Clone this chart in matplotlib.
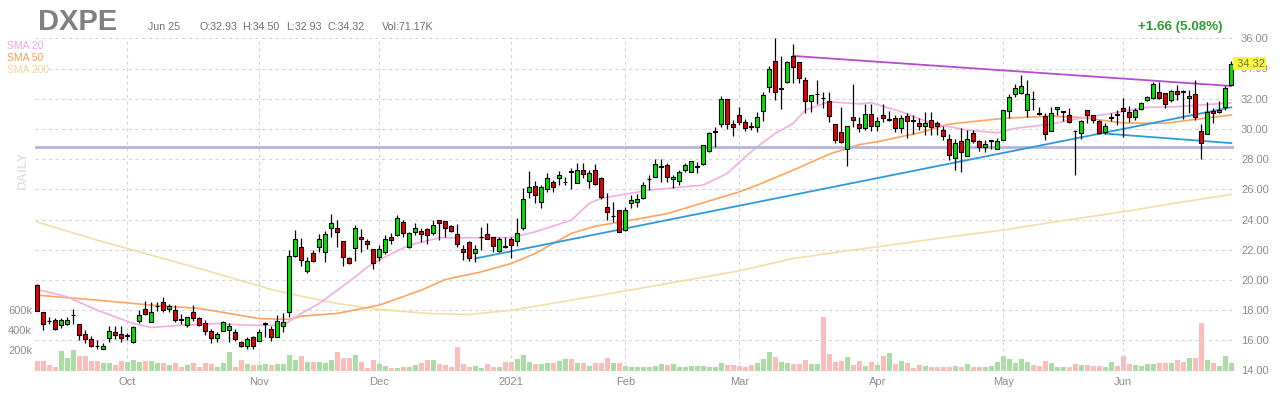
import numpy as np
import pandas as pd
import matplotlib
matplotlib.use('Agg')
import matplotlib.pyplot as plt
from matplotlib.transforms import blended_transform_factory

plt.rcParams['font.family'] = ['Liberation Sans', 'DejaVu Sans']

# trading days shown (NYSE holidays removed)
holidays = ['2020-11-26', '2020-12-25', '2021-01-01', '2021-01-18',
            '2021-02-15', '2021-04-02', '2021-05-31']
dates = pd.bdate_range('2020-09-10', '2021-06-25', freq='C', holidays=holidays)

# daily OHLC
opens = [19.65, 17.88, 17.27, 17.35, 17.04, 17.09, 17.66, 17.09, 16.42, 16.09,
         15.62, 15.43, 16.16, 16.56, 16.42, 16.29, 15.87, 17.26, 18.08, 17.20,
         18.25, 18.52, 18.10, 18.01, 17.36, 17.04, 17.88, 17.48, 17.13, 16.64,
         16.16, 16.64, 16.69, 16.58, 15.92, 15.60, 16.20, 15.96, 17.11, 16.75,
         16.20, 16.98, 17.90, 21.58, 22.19, 20.59, 21.75, 22.15, 21.84, 23.47,
         23.47, 22.59, 21.42, 22.08, 22.85, 22.59, 22.02, 21.49, 21.84, 22.81,
         22.96, 23.85, 22.15, 23.19, 23.25, 23.34, 23.12, 24.00, 23.91, 23.56,
         23.03, 22.02, 22.52, 21.75, 22.82, 23.07, 22.84, 21.89, 22.23, 22.73,
         22.56, 23.47, 25.84, 26.24, 25.13, 26.00, 26.47, 26.73, 26.46, 27.20,
         26.40, 27.29, 26.58, 27.29, 26.73, 24.80, 24.21, 24.62, 23.29, 25.07,
         25.13, 25.40, 26.65, 26.84, 27.50, 27.61, 26.66, 26.57, 27.28, 27.17,
         27.49, 27.66, 28.54, 29.80, 30.30, 31.98, 30.30, 30.92, 30.44, 30.16,
         30.15, 31.19, 32.80, 34.50, 32.64, 33.09, 34.83, 34.41, 33.24, 31.87,
         32.29, 32.04, 31.85, 30.30, 29.77, 28.65, 30.81, 30.34, 30.07, 30.98,
         30.20, 30.91, 30.61, 30.75, 30.03, 30.87, 30.54, 30.36, 30.18, 30.62,
         30.40, 29.96, 29.36, 28.04, 29.21, 28.22, 29.70, 29.19, 28.77, 29.20,
         28.70, 29.25, 31.17, 32.30, 32.41, 31.28, 31.98, 31.03, 30.87, 29.87,
         31.35, 31.12, 30.95, 29.86, 29.70, 31.28, 30.95, 30.53, 29.81, 30.69,
         30.96, 31.36, 31.10, 30.77, 31.30, 31.92, 32.03, 32.42, 32.36, 31.92,
         32.51, 32.48, 32.03, 32.29, 29.89, 29.66, 31.19, 31.14, 31.43, 32.93]
highs = [19.70, 17.90, 17.57, 17.48, 17.48, 17.53, 18.08, 17.10, 16.67, 16.30,
         16.03, 15.80, 16.98, 16.98, 16.93, 16.50, 16.93, 18.01, 18.63, 18.52,
         18.52, 18.85, 18.40, 18.32, 17.75, 17.55, 18.34, 17.53, 17.35, 16.75,
         16.53, 17.30, 17.13, 16.75, 15.98, 16.20, 16.31, 16.78, 17.20, 16.98,
         17.68, 17.79, 21.97, 23.30, 22.79, 21.53, 21.97, 23.07, 23.25, 24.35,
         23.96, 22.60, 21.53, 23.63, 23.34, 22.74, 22.02, 22.30, 22.96, 23.12,
         24.29, 24.00, 23.19, 23.74, 23.47, 23.41, 23.96, 24.00, 23.91, 23.63,
         23.69, 22.30, 22.55, 22.30, 23.51, 23.78, 22.84, 22.84, 22.84, 22.84,
         24.13, 26.07, 27.22, 26.56, 26.29, 27.11, 26.62, 27.18, 26.84, 27.44,
         27.73, 27.73, 27.29, 27.67, 26.84, 25.78, 25.18, 24.62, 24.80, 25.62,
         25.69, 26.51, 26.96, 28.00, 28.00, 27.73, 26.95, 27.28, 27.77, 27.88,
         27.83, 28.94, 29.82, 30.15, 32.18, 31.98, 30.60, 31.43, 30.64, 30.48,
         31.14, 32.47, 34.17, 36.00, 34.83, 34.52, 35.62, 34.41, 33.46, 32.25,
         33.24, 32.47, 32.47, 30.30, 31.43, 30.22, 32.98, 30.77, 31.64, 31.64,
         30.80, 31.64, 31.20, 30.91, 30.91, 31.06, 30.91, 30.69, 31.09, 31.09,
         30.53, 30.18, 29.65, 29.30, 30.03, 29.92, 29.92, 29.25, 29.25, 29.25,
         29.43, 31.24, 32.34, 32.96, 33.56, 33.27, 32.52, 31.46, 31.02, 31.46,
         31.46, 31.20, 31.40, 29.92, 30.58, 31.28, 30.95, 30.58, 30.36, 31.02,
         31.28, 32.03, 31.52, 31.36, 31.81, 32.18, 33.13, 33.13, 32.36, 32.58,
         32.91, 32.58, 32.58, 33.24, 30.33, 31.76, 31.36, 31.87, 32.84, 34.50]
lows = [17.95, 16.71, 17.09, 16.69, 16.82, 17.02, 17.09, 16.05, 15.80, 15.54,
        15.43, 15.43, 15.87, 16.09, 15.87, 16.00, 15.85, 17.13, 17.70, 17.20,
        17.97, 17.86, 17.90, 17.20, 17.09, 16.89, 17.30, 16.98, 16.38, 15.80,
        15.87, 16.60, 15.92, 15.94, 15.56, 15.43, 15.43, 15.96, 16.20, 15.98,
        16.20, 16.58, 17.57, 21.53, 20.92, 20.43, 21.20, 21.86, 21.20, 22.81,
        22.19, 20.92, 21.03, 21.27, 21.86, 22.04, 20.72, 21.27, 21.71, 22.37,
        22.92, 22.83, 22.08, 22.96, 22.52, 22.41, 22.96, 22.63, 22.85, 23.19,
        22.19, 21.31, 21.27, 21.20, 21.96, 22.69, 21.84, 21.84, 22.11, 21.47,
        22.22, 23.29, 25.40, 25.07, 24.78, 25.84, 25.84, 26.29, 26.29, 26.00,
        26.40, 26.73, 26.07, 26.29, 25.33, 24.00, 23.84, 23.18, 23.24, 24.73,
        24.84, 25.33, 25.96, 26.84, 26.51, 26.51, 26.07, 26.29, 27.17, 27.13,
        27.06, 27.61, 28.50, 28.83, 30.15, 30.00, 29.55, 30.26, 29.89, 29.93,
        29.82, 30.53, 32.47, 31.92, 31.30, 33.02, 33.02, 33.02, 31.03, 31.14,
        31.65, 31.36, 30.48, 29.09, 29.05, 27.55, 30.15, 29.78, 29.92, 29.87,
        29.87, 30.47, 30.53, 29.81, 29.70, 29.40, 29.65, 29.92, 29.58, 29.58,
        29.58, 29.25, 27.97, 27.31, 27.13, 28.22, 29.08, 28.55, 28.48, 28.70,
        28.70, 29.25, 30.69, 32.12, 32.34, 30.80, 31.24, 30.91, 29.25, 29.87,
        30.91, 30.51, 30.36, 26.98, 29.30, 30.40, 30.36, 29.65, 29.65, 30.53,
        30.25, 29.49, 30.44, 30.59, 31.25, 31.87, 31.96, 31.96, 31.36, 31.81,
        31.92, 30.64, 31.03, 30.59, 27.99, 29.66, 30.37, 31.03, 31.25, 32.93]
closes = [17.97, 17.09, 17.25, 16.75, 17.35, 17.35, 17.69, 16.36, 16.09, 15.60,
          15.60, 15.60, 16.60, 16.36, 16.16, 16.31, 16.91, 17.68, 17.75, 17.88,
          18.27, 18.01, 18.26, 17.35, 17.34, 17.53, 17.48, 17.04, 16.64, 16.16,
          16.42, 17.20, 16.98, 16.09, 15.60, 16.09, 15.60, 16.58, 17.14, 16.25,
          17.30, 17.20, 21.58, 22.74, 21.31, 21.25, 21.25, 22.72, 23.07, 23.80,
          23.19, 21.49, 21.09, 23.41, 22.68, 22.35, 21.09, 22.02, 22.74, 22.63,
          24.13, 23.12, 23.12, 23.47, 23.07, 22.96, 23.63, 23.80, 23.47, 23.25,
          22.37, 21.82, 21.42, 22.02, 22.86, 22.73, 22.22, 22.73, 22.21, 22.33,
          23.11, 25.33, 26.18, 25.62, 26.13, 26.73, 26.13, 26.96, 26.48, 27.15,
          27.29, 27.02, 27.07, 26.33, 25.47, 24.51, 24.23, 23.18, 24.62, 25.29,
          25.36, 26.29, 26.69, 27.69, 27.52, 26.84, 26.84, 27.13, 27.61, 27.88,
          27.51, 28.94, 29.71, 29.83, 31.98, 30.30, 30.10, 30.48, 30.04, 30.14,
          30.77, 32.25, 33.95, 32.42, 32.69, 34.41, 34.08, 33.35, 31.87, 32.25,
          32.32, 32.02, 30.86, 29.27, 29.16, 30.22, 30.59, 30.04, 30.98, 30.18,
          30.51, 30.73, 30.63, 30.07, 30.75, 30.53, 30.52, 30.18, 30.36, 30.14,
          30.22, 29.52, 28.30, 29.08, 28.48, 29.36, 29.19, 28.77, 28.99, 29.22,
          29.21, 31.24, 32.08, 32.68, 32.83, 32.30, 31.96, 31.01, 29.63, 31.02,
          31.46, 31.14, 30.47, 29.84, 30.51, 30.95, 30.58, 29.70, 30.18, 30.80,
          30.94, 31.21, 30.81, 31.25, 31.70, 32.09, 32.95, 32.07, 31.65, 32.51,
          32.29, 32.46, 32.18, 30.81, 29.09, 31.14, 31.03, 31.25, 32.69, 34.32]
# volume in thousands of shares
volumes = [100, 100, 57, 40, 200, 130, 207, 147, 147, 100,
           100, 80, 73, 57, 100, 90, 107, 90, 100, 100,
           80, 80, 57, 80, 40, 57, 80, 40, 73, 63,
           40, 80, 187, 40, 107, 67, 57, 57, 67, 57,
           67, 67, 157, 107, 150, 90, 90, 90, 80, 107,
           183, 130, 130, 157, 90, 30, 107, 67, 47, 30,
           30, 40, 40, 57, 73, 107, 107, 67, 57, 40,
           240, 67, 40, 47, 23, 63, 40, 40, 83, 83,
           113, 157, 90, 63, 63, 73, 73, 100, 113, 113,
           80, 73, 47, 73, 73, 130, 80, 80, 47, 40,
           40, 40, 40, 47, 67, 57, 67, 40, 40, 47,
           47, 47, 40, 40, 80, 57, 57, 47, 40, 57,
           80, 113, 190, 140, 90, 80, 67, 67, 107, 67,
           67, 533, 167, 90, 97, 133, 57, 100, 47, 90,
           57, 150, 173, 67, 97, 73, 30, 57, 47, 40,
           40, 40, 40, 47, 40, 67, 40, 40, 40, 47,
           90, 147, 117, 80, 117, 90, 57, 50, 95, 80,
           40, 40, 40, 67, 57, 57, 47, 47, 40, 87,
           47, 147, 67, 53, 50, 67, 67, 73, 73, 80,
           107, 90, 123, 123, 480, 107, 73, 50, 147, 71]

# moving averages at sample bars
sma20_at = [0, 5, 10, 16, 19, 24, 30, 35, 41, 44, 47, 50, 53, 55, 58, 62, 67, 74,
            79, 83, 89, 92, 94, 98, 102, 105, 111, 115, 118, 120, 123, 126, 128,
            132, 137, 139, 144, 149, 155, 160, 163, 169, 174, 179, 185, 190, 199]
sma20 = [19.37, 18.88, 17.99, 17.11, 16.85, 17.00, 17.11, 17.00, 17.00, 17.78,
         18.44, 19.32, 20.20, 20.86, 21.53, 22.30, 22.79, 22.79, 22.81, 23.18,
         23.96, 25.07, 25.40, 25.68, 25.95, 26.06, 26.28, 27.05, 28.15, 28.82,
         29.70, 30.37, 31.25, 31.80, 31.65, 31.73, 31.14, 30.37, 29.92, 29.74,
         30.04, 30.32, 30.72, 31.03, 31.43, 31.47, 31.73]
sma50_at = [0, 10, 19, 27, 37, 42, 44, 50, 57, 64, 68, 74, 79, 83, 89, 93, 98,
            105, 117, 120, 126, 132, 137, 140, 147, 152, 161, 169, 174, 181,
            188, 193, 199]
sma50 = [18.99, 18.66, 18.33, 18.11, 17.44, 17.38, 17.60, 17.78, 18.33, 19.32,
         20.03, 20.53, 21.09, 21.75, 23.08, 23.56, 23.89, 24.39, 25.83, 26.28,
         27.27, 28.33, 28.96, 29.15, 29.74, 30.32, 30.70, 30.85, 30.76, 30.39,
         30.37, 30.63, 30.92]
sma200_at = [0, 10, 19, 28, 39, 44, 50, 57, 65, 72, 79, 89, 98, 105, 117, 126,
             137, 140, 152, 161, 169, 181, 190, 199]
sma200 = [23.83, 22.63, 21.64, 20.64, 19.37, 18.92, 18.44, 18.04, 17.78, 17.71,
          17.99, 18.66, 19.27, 19.76, 20.60, 21.42, 22.04, 22.19, 22.85, 23.30,
          23.81, 24.51, 25.11, 25.66]

# drawn trendlines (bar index, price)
support_up = ([73, 199], [21.42, 31.43])
support_down = ([177, 199], [29.72, 29.06])
resistance = ([126, 199], [34.83, 32.84])
level = 28.78

o = np.array(opens); h = np.array(highs); l = np.array(lows); c = np.array(closes)
v = np.array(volumes)
x = np.arange(len(dates))
up = c >= o

fig = plt.figure(figsize=(12.8, 4.0), dpi=100)
ax = fig.add_axes([35 / 1280, 0.07375, 1199 / 1280, 0.8305])
axv = ax.twinx()
ax.set_zorder(axv.get_zorder() + 1)
ax.patch.set_visible(False)

# volume
axv.bar(x, v, width=0.82, color=np.where(up, '#abdca3', '#fbbcbc'), zorder=1)
axv.set_ylim(0, 3322)
axv.set_yticks([200, 400, 600])
axv.set_yticklabels(['200k', '400k', '600k'])
axv.yaxis.tick_left()
axv.tick_params(axis='y', length=0, pad=2, labelsize=8, labelcolor='#8c8c8c')

# grid
ax.set_ylim(14, 36)
ax.set_xlim(-0.38, 199.45)
ax.set_yticks(np.arange(14, 37, 2))
ax.set_yticklabels([f'{t:.2f}' for t in np.arange(14, 37, 2)])
ax.yaxis.tick_right()
ax.tick_params(axis='y', length=0, pad=5, labelsize=8, labelcolor='#8c8c8c')
month_idx = [i for i in range(1, len(dates)) if dates[i].month != dates[i - 1].month]
month_lbl = [str(dates[i].year) if dates[i].month == 1 else dates[i].strftime('%b')
             for i in month_idx]
ax.set_xticks(month_idx)
ax.set_xticklabels(month_lbl)
ax.tick_params(axis='x', length=0, pad=5, labelsize=8, labelcolor='#8c8c8c')
ax.grid(True, color='#d5d5d5', linestyle=(0, (3, 3)), linewidth=0.8)
ax.set_axisbelow(True)
for a in (ax, axv):
    for s in a.spines.values():
        s.set_visible(False)

# moving averages and trendlines
ax.plot(sma200_at, sma200, color='#f3dca6', lw=1.2, zorder=2)
ax.plot(sma50_at, sma50, color='#ffa45f', lw=1.2, zorder=2)
ax.plot(sma20_at, sma20, color='#f2aee3', lw=1.2, zorder=2)
ax.axhline(level, color='#b4b4e0', lw=2, zorder=2)
ax.plot(*support_up, color='#2b9bd9', lw=1.3, zorder=3)
ax.plot(*support_down, color='#2b9bd9', lw=1.3, zorder=3)
ax.plot(*resistance, color='#b84ad0', lw=1.3, zorder=3)

# candles
ax.vlines(x, l, h, color='black', lw=0.9, zorder=4)
body = np.maximum(np.abs(c - o), 0.045)
ax.bar(x, body, bottom=np.minimum(o, c), width=0.72,
       color=np.where(up, '#00e400', '#e80000'), edgecolor='black', linewidth=0.8, zorder=5)

# last price tag
tr = blended_transform_factory(ax.transAxes, ax.transData)
ax.text(1.0, closes[-1], f' {closes[-1]:.2f}', transform=tr, ha='left', va='center',
        fontsize=8, color='#707060', clip_on=False, zorder=10,
        bbox=dict(boxstyle='square,pad=0.12', facecolor='#f9f936', edgecolor='none'))

# header
fig.text(38 / 1280, 1 - 30 / 400, 'DXPE', fontsize=21, fontweight='bold', color='#808080',
         va='baseline')
hdr = [(148, 'Jun 25'), (199, 'O:32.93'), (242, 'H:34.50'), (286, 'L:32.93'),
       (327, 'C:34.32'), (382, 'Vol:71.17K')]
for px, s in hdr:
    fig.text(px / 1280, 1 - 30.5 / 400, s, fontsize=7.7, color='#707070', va='baseline')
fig.text(1222 / 1280, 1 - 30 / 400, '+1.66 (5.08%)', fontsize=9.6, fontweight='bold',
         color='#2e9b2e', ha='right', va='baseline')
for py, s, col in [(45.7, 'SMA 20', '#f5a6de'), (57.7, 'SMA 50', '#ff9c52'),
                   (70, 'SMA 200', '#f1d59c')]:
    fig.text(7 / 1280, 1 - py / 400, s, fontsize=7.5, color=col, va='center')
fig.text(22.7 / 1280, 1 - 171 / 400, 'DAILY', fontsize=9.5, fontweight='bold',
         color='#e2e2e2', rotation=90, ha='center', va='center')

fig.savefig('out.png', dpi=100)
